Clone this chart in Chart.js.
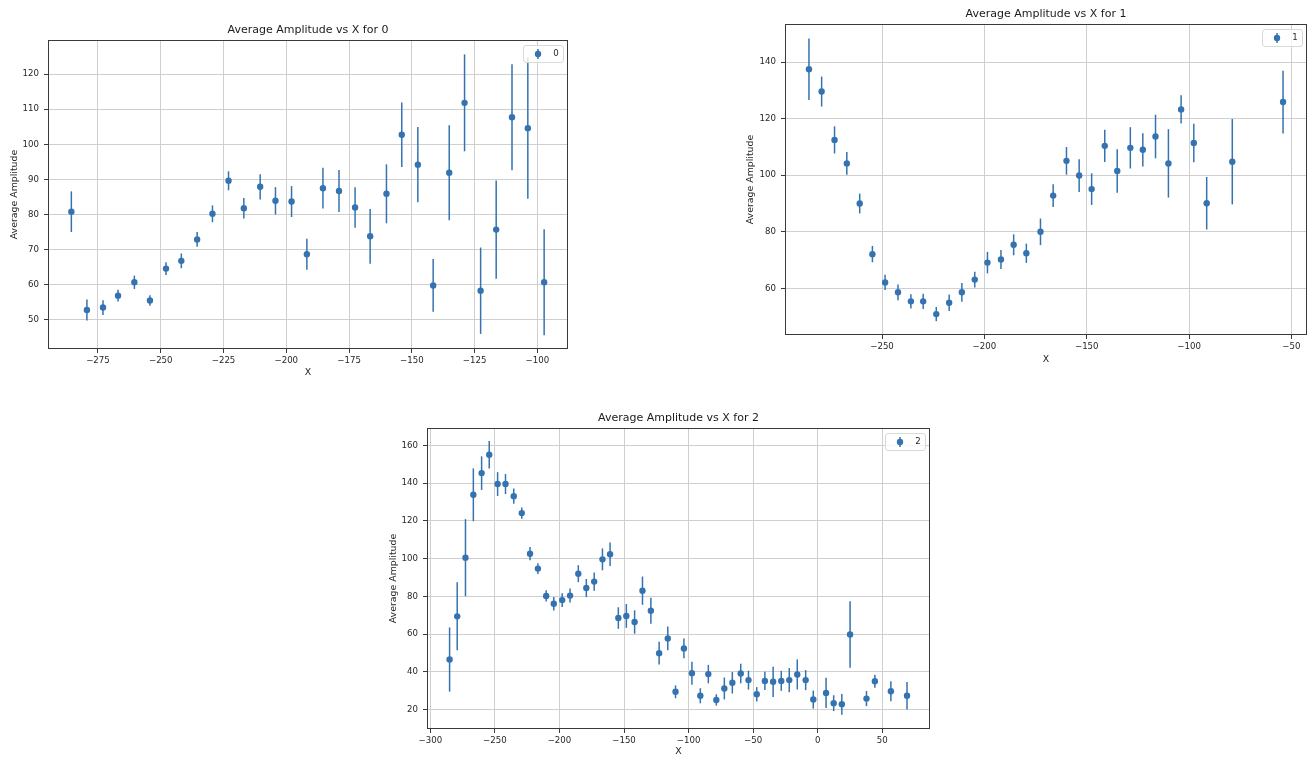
<!DOCTYPE html>
<html><head><meta charset="utf-8">
<script src="https://cdn.jsdelivr.net/npm/chart.js@4/dist/chart.umd.min.js"></script>
<style>
html,body{margin:0;padding:0;background:#fff;width:1315px;height:758px;overflow:hidden;}
canvas{position:absolute;}
</style></head><body>
<canvas id="c0" width="580" height="385" style="left:0;top:0;width:580px;height:385px"></canvas>
<canvas id="c1" width="575" height="375" style="left:740px;top:0;width:575px;height:375px"></canvas>
<canvas id="c2" width="560" height="358" style="left:380px;top:400px;width:560px;height:358px"></canvas>
<script>
// ---- data: group 0 ----
const x0 = [-285.6,-279.4,-273.0,-267.0,-260.5,-254.3,-247.9,-241.8,-235.5,-229.4,-223.0,-216.9,-210.4,-204.3,-197.9,-191.8,-185.4,-179.0,-172.6,-166.6,-160.1,-154.0,-147.6,-141.5,-135.1,-129.0,-122.6,-116.4,-110.1,-103.8,-97.3];
const y0 = [80.8,52.8,53.5,56.9,60.7,55.5,64.6,66.8,72.9,80.2,89.6,81.8,87.9,83.9,83.7,68.7,87.5,86.7,82.0,73.8,85.9,102.7,94.2,59.8,91.9,111.8,58.3,75.7,107.7,104.6,60.7];
const e0 = [5.8,3.0,2.1,1.7,1.9,1.5,1.8,2.1,2.1,2.4,2.7,2.9,3.6,3.9,4.4,4.4,5.8,6.0,5.8,7.8,8.4,9.2,10.7,7.5,13.5,13.8,12.3,14.0,15.1,20.1,15.1];
const xTicks0 = [-275,-250,-225,-200,-175,-150,-125,-100];
const yTicks0 = [50,60,70,80,90,100,110,120];

// ---- data: group 1 ----
const x1 = [-285.7,-279.5,-273.2,-267.2,-260.9,-254.7,-248.5,-242.2,-235.9,-229.9,-223.5,-217.2,-211.0,-204.7,-198.5,-191.9,-185.7,-179.5,-172.6,-166.4,-159.9,-153.7,-147.6,-141.2,-135.1,-128.7,-122.6,-116.4,-110.1,-103.9,-97.7,-91.4,-78.9,-54.1];
const y1 = [137.5,129.6,112.5,104.2,90.0,72.1,62.1,58.6,55.4,55.4,50.9,54.9,58.6,63.1,69.1,70.2,75.4,72.4,80.0,92.8,105.1,99.9,95.1,110.4,101.5,109.7,109.0,113.7,104.2,123.3,111.4,90.1,104.8,125.9];
const e1 = [10.9,5.3,4.8,4.0,3.5,2.9,2.7,2.8,2.5,2.7,2.5,2.9,3.3,2.8,3.8,3.4,3.7,3.4,4.7,4.0,4.9,5.8,5.6,5.7,7.7,7.3,5.9,7.7,12.1,5.0,6.8,9.3,15.1,11.1];
const xTicks1 = [-250,-200,-150,-100,-50];
const yTicks1 = [60,80,100,120,140];

// ---- data: group 2 ----
const x2 = [-285.1,-279.2,-272.8,-266.7,-260.3,-254.4,-247.9,-241.8,-235.4,-229.2,-222.8,-216.7,-210.3,-204.4,-197.9,-191.8,-185.4,-179.2,-173.1,-166.7,-160.8,-154.4,-148.2,-141.8,-135.7,-129.2,-122.8,-116.1,-110.1,-103.6,-97.4,-90.9,-84.7,-78.5,-72.3,-66.1,-59.6,-53.6,-47.2,-40.9,-34.5,-28.2,-22.0,-15.8,-9.3,-3.4,6.5,12.4,18.7,25.1,37.8,44.3,56.7,69.2];
const y2 = [46.5,69.4,100.5,133.8,145.3,155.0,139.5,139.5,133.1,124.1,102.6,94.7,80.2,76.1,78.0,80.4,92.0,84.4,87.8,99.6,102.3,68.5,69.6,66.4,83.0,72.4,49.9,57.7,29.4,52.4,39.3,27.3,38.8,25.1,31.2,34.2,39.1,35.6,28.1,35.2,34.7,35.2,35.6,38.6,35.6,25.3,28.8,23.4,22.8,59.8,25.8,35.0,29.7,27.3];
const e2 = [17.0,18.0,20.4,14.0,8.9,7.3,6.3,5.3,4.0,3.0,3.5,2.8,3.0,3.6,3.7,3.7,4.5,4.8,4.8,5.8,6.2,5.7,6.3,6.2,7.5,6.9,6.0,6.3,3.4,5.2,6.1,4.0,4.9,3.0,5.8,5.7,5.2,5.0,3.8,4.8,8.0,5.3,6.4,8.0,5.3,4.8,8.0,4.2,5.5,17.6,4.0,3.5,5.3,7.3];
const xTicks2 = [-300,-250,-200,-150,-100,-50,0,50];
const yTicks2 = [20,40,60,80,100,120,140,160];

const labels = ['0','1','2'];
const COLOR = '#3473b0';
const FONT = 'DejaVu Sans';
Chart.defaults.font.family = FONT;
Chart.defaults.color = '#262626';

const fmt = v => (v < 0 ? '\u2212' + Math.abs(v) : String(v));

const errPlugin = {
  id: 'errbars',
  afterLayout(chart) {
    // centre the title over the plot area, as matplotlib does
    const t = chart.titleBlock, a = chart.chartArea;
    if (t && a) { t.left = a.left; t.right = a.right; t.width = a.right - a.left; }
  },
  beforeDatasetsDraw(chart) {
    const {ctx, scales: {x, y}} = chart;
    const ds = chart.data.datasets[0];
    ctx.save();
    ctx.beginPath();
    ctx.rect(chart.chartArea.left, chart.chartArea.top, chart.chartArea.right - chart.chartArea.left, chart.chartArea.bottom - chart.chartArea.top);
    ctx.clip();
    ctx.strokeStyle = COLOR;
    ctx.lineWidth = 1.5;
    ds.data.forEach((p, i) => {
      const px = x.getPixelForValue(p.x);
      ctx.beginPath();
      ctx.moveTo(px, y.getPixelForValue(p.y - ds.errors[i]));
      ctx.lineTo(px, y.getPixelForValue(p.y + ds.errors[i]));
      ctx.stroke();
    });
    ctx.restore();
  },
  afterDatasetsDraw(chart) {
    const {ctx, chartArea: a} = chart;
    ctx.save();
    // frame
    ctx.strokeStyle = '#3a3a3a';
    ctx.lineWidth = 1;
    ctx.strokeRect(Math.round(a.left) + 0.5, Math.round(a.top) + 0.5, Math.round(a.right - a.left) - 1, Math.round(a.bottom - a.top) - 1);
    // legend
    const w = 40, h = 17;
    const bx = a.right - 5 - w, by = a.top + 5;
    ctx.fillStyle = 'rgba(255,255,255,0.8)';
    ctx.strokeStyle = '#d9d9d9';
    ctx.beginPath();
    ctx.roundRect(bx + 0.5, by + 0.5, w, h, 2.5);
    ctx.fill();
    ctx.stroke();
    const mx = bx + 15, my = by + h / 2 + 0.5;
    ctx.strokeStyle = COLOR;
    ctx.lineWidth = 1.5;
    ctx.beginPath(); ctx.moveTo(mx, my - 5); ctx.lineTo(mx, my + 5); ctx.stroke();
    ctx.fillStyle = COLOR;
    ctx.beginPath(); ctx.arc(mx, my, 3.2, 0, Math.PI * 2); ctx.fill();
    ctx.fillStyle = '#262626';
    ctx.font = '8.6px "' + FONT + '"';
    ctx.textAlign = 'center';
    ctx.textBaseline = 'middle';
    ctx.fillText(chart.data.datasets[0].label, bx + 33, my);
    ctx.restore();
  }
};

function makeChart(id, xs, ys, es, label, xTicks, yTicks, L) {
  const pts = xs.map((v, i) => ({x: v, y: ys[i]}));
  return new Chart(document.getElementById(id), {
    type: 'scatter',
    data: {datasets: [{label: label, data: pts, errors: es, backgroundColor: COLOR, borderColor: COLOR, pointRadius: 3.2, pointBorderWidth: 0, pointHoverRadius: 3.2}]},
    options: {
      responsive: false, animation: false, events: [],
      layout: {padding: {left: 0, right: L.right, top: 0, bottom: 0}},
      plugins: {
        legend: {display: false},
        tooltip: {enabled: false},
        title: {display: true, text: 'Average Amplitude vs X for ' + label, color: '#1a1a1a',
          font: {size: 11, weight: 'normal', family: FONT}, padding: {top: L.tTop, bottom: L.tBot}}
      },
      scales: {
        x: {
          type: 'linear', min: L.xmin, max: L.xmax,
          afterBuildTicks: s => { s.ticks = xTicks.map(v => ({value: v})); },
          afterFit: s => { s.height = L.xh; },
          grid: {color: '#cfcfcf', lineWidth: 1, tickColor: '#3a3a3a', tickLength: 4, drawTicks: true},
          border: {display: false},
          ticks: {callback: fmt, font: {size: 8.6}, padding: 3, maxRotation: 0, autoSkip: false, color: '#262626'},
          title: {display: true, text: 'X', font: {size: 9.4}, padding: {top: 0, bottom: L.xtb}, color: '#262626'}
        },
        y: {
          type: 'linear', min: L.ymin, max: L.ymax,
          afterBuildTicks: s => { s.ticks = yTicks.map(v => ({value: v})); },
          afterFit: s => { s.width = L.yw; },
          grid: {color: '#cfcfcf', lineWidth: 1, tickColor: '#3a3a3a', tickLength: 4, drawTicks: true},
          border: {display: false},
          ticks: {callback: fmt, font: {size: 8.6}, padding: 5, autoSkip: false, color: '#262626'},
          title: {display: true, text: 'Average Amplitude', font: {size: 9.4}, padding: {top: L.ytp, bottom: 0}, color: '#262626'}
        }
      }
    },
    plugins: [errPlugin]
  });
}

makeChart('c0', x0, y0, e0, labels[0], xTicks0, yTicks0,
  {right: 12, tTop: 23.9, tBot: 2.9, xmin: -294.9, xmax: -87.8, ymin: 41.7, ymax: 129.7, xh: 36, yw: 48, xtb: 6.9, ytp: 9.4});
makeChart('c1', x1, y1, e1, labels[1], xTicks1, yTicks1,
  {right: 8, tTop: 7.4, tBot: 3.4, xmin: -297.4, xmax: -42.4, ymin: 43.5, ymax: 153.5, xh: 40, yw: 45, xtb: 9.4, ytp: 5.1});
makeChart('c2', x2, y2, e2, labels[2], xTicks2, yTicks2,
  {right: 10, tTop: 11.4, tBot: 3.4, xmin: -302.6, xmax: 87.0, ymin: 9.7, ymax: 169.2, xh: 29, yw: 47, xtb: 0.7, ytp: 7.7});
</script>
</body></html>
